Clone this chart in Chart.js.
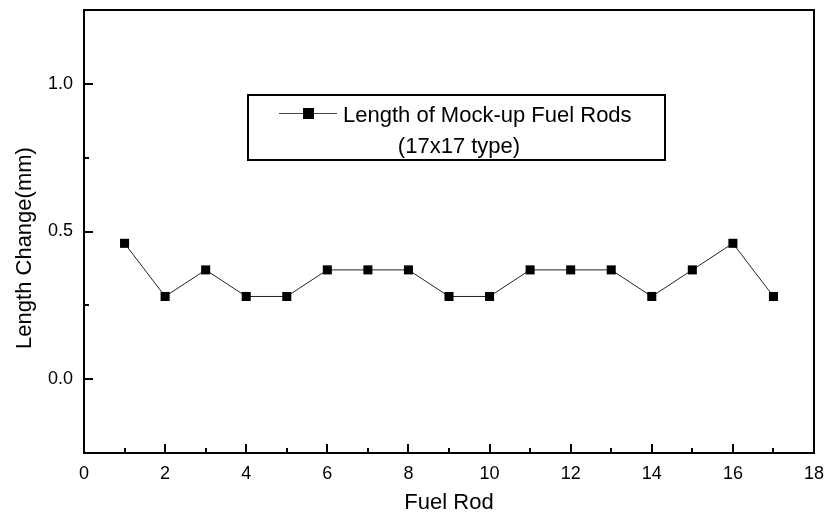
<!DOCTYPE html>
<html>
<head>
<meta charset="utf-8">
<script src="https://cdn.jsdelivr.net/npm/chart.js@4/dist/chart.umd.min.js"></script>
<style>
  html, body { margin: 0; padding: 0; background: #fff; }
  #wrap { width: 830px; height: 524px; position: relative; }
</style>
</head>
<body>
<div id="wrap"><canvas id="c" width="830" height="524"></canvas></div>
<script>
const fuelRods = [1, 2, 3, 4, 5, 6, 7, 8, 9, 10, 11, 12, 13, 14, 15, 16, 17];
const lengthChange = [0.46, 0.28, 0.37, 0.28, 0.28, 0.37, 0.37, 0.37, 0.28, 0.28, 0.37, 0.37, 0.37, 0.28, 0.37, 0.46, 0.28];
const seriesLabel = 'Length of Mock-up Fuel Rods';
const seriesSubLabel = '(17x17 type)';
const xTitle = 'Fuel Rod';
const yTitle = 'Length Change(mm)';

const FONT = '"Liberation Sans", Arial, sans-serif';

const framePlugin = {
  id: 'frame',
  afterDraw(chart) {
    const ctx = chart.ctx;
    const a = chart.chartArea;
    const xs = chart.scales.x, ys = chart.scales.y;
    ctx.save();
    ctx.strokeStyle = '#000';
    ctx.lineWidth = 2;
    ctx.lineCap = 'butt';
    ys.ticks.forEach(t => {
      const p = Math.round(ys.getPixelForValue(t.value));
      const len = t.label !== '' ? 9 : 5;
      ctx.beginPath();
      ctx.moveTo(a.left, p);
      ctx.lineTo(a.left + len, p);
      ctx.stroke();
    });
    xs.ticks.forEach(t => {
      const p = Math.round(xs.getPixelForValue(t.value));
      const len = t.label !== '' ? 9 : 5;
      ctx.beginPath();
      ctx.moveTo(p, a.bottom);
      ctx.lineTo(p, a.bottom - len);
      ctx.stroke();
    });
    ctx.strokeRect(a.left, a.top, a.right - a.left, a.bottom - a.top);

    // y-axis title
    ctx.save();
    ctx.translate(25, 248);
    ctx.rotate(-Math.PI / 2);
    ctx.fillStyle = '#000';
    ctx.font = '22px ' + FONT;
    ctx.textAlign = 'center';
    ctx.textBaseline = 'middle';
    ctx.fillText(yTitle, 0, 0);
    ctx.restore();

    // legend box
    const bx = 248, by = 95, bw = 417, bh = 65;
    ctx.lineWidth = 2;
    ctx.strokeStyle = '#000';
    ctx.strokeRect(bx, by, bw, bh);
    ctx.lineWidth = 1;
    ctx.strokeStyle = '#444';
    ctx.beginPath();
    ctx.moveTo(279, 113.5);
    ctx.lineTo(337, 113.5);
    ctx.stroke();
    ctx.fillStyle = '#000';
    ctx.fillRect(303, 108, 11, 11);
    ctx.font = '22px ' + FONT;
    ctx.textBaseline = 'alphabetic';
    ctx.textAlign = 'left';
    ctx.fillText(seriesLabel, 343, 122);
    ctx.textAlign = 'center';
    ctx.fillText(seriesSubLabel, 459, 153);
    ctx.restore();
  }
};

new Chart(document.getElementById('c'), {
  type: 'line',
  data: {
    labels: fuelRods,
    datasets: [{
      label: seriesLabel,
      data: fuelRods.map((x, i) => ({ x: x, y: lengthChange[i] })),
      borderColor: '#222',
      borderWidth: 1,
      backgroundColor: '#000',
      pointStyle: 'rect',
      pointRadius: 6.4,
      pointBorderWidth: 0,
      pointBackgroundColor: '#000',
      pointBorderColor: '#000',
      tension: 0,
      fill: false
    }]
  },
  options: {
    responsive: false,
    animation: false,
    devicePixelRatio: 1,
    layout: { padding: { left: 0, right: 16, top: 10, bottom: 0 } },
    plugins: { legend: { display: false }, tooltip: { enabled: false } },
    scales: {
      x: {
        type: 'linear',
        min: 0, max: 18,
        afterFit(s) { s.height = 71; s.paddingLeft = 0; s.paddingRight = 0; },
        grid: { display: false, drawTicks: false },
        border: { display: false },
        ticks: {
          stepSize: 1,
          autoSkip: false,
          maxRotation: 0,
          padding: 10,
          color: '#000',
          font: { family: FONT, size: 18 },
          callback: v => (Math.round(v) % 2 === 0 ? String(Math.round(v)) : '')
        },
        title: {
          display: true, text: xTitle, color: '#000',
          font: { family: FONT, size: 22 },
          padding: { top: 0, bottom: 8 }
        }
      },
      y: {
        type: 'linear',
        min: -0.25, max: 1.25,
        afterFit(s) { s.width = 84; s.paddingTop = 0; s.paddingBottom = 0; },
        grid: { display: false, drawTicks: false },
        border: { display: false },
        ticks: {
          stepSize: 0.25,
          autoSkip: false,
          padding: 11,
          color: '#000',
          font: { family: FONT, size: 18 },
          callback: v => (Math.abs(Math.round(v * 4)) % 2 === 0 ? v.toFixed(1) : '')
        },
        title: { display: false }
      }
    }
  },
  plugins: [framePlugin]
});
</script>
</body>
</html>
